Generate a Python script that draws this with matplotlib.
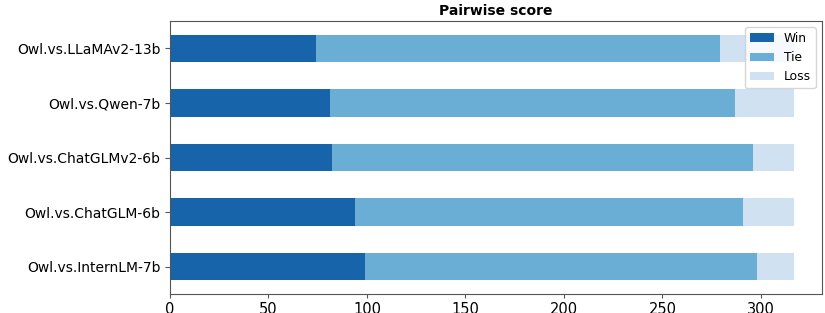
import matplotlib
matplotlib.use("Agg")
import matplotlib.pyplot as plt
import numpy as np

categories = ["Owl.vs.InternLM-7b", "Owl.vs.ChatGLM-6b", "Owl.vs.ChatGLMv2-6b",
              "Owl.vs.Qwen-7b", "Owl.vs.LLaMAv2-13b"]
win = [99, 94, 82, 81, 74]
tie = [199, 197, 214, 206, 205]
loss = [19, 26, 21, 30, 38]
series_names = ["Win", "Tie", "Loss"]
colors = ["#1764ab", "#6aaed6", "#d0e1f2"]

fig = plt.figure(figsize=(8.25, 3.13), dpi=100)
ax = fig.add_axes([170/825, (313-294)/313, (822-170)/825, (294-21)/313])
y = np.arange(len(categories))
left = np.zeros(len(categories))
for name, vals, c in zip(series_names, [win, tie, loss], colors):
    ax.barh(y, vals, height=0.5, left=left, color=c, label=name)
    left = left + np.array(vals)
ax.set_yticks(y)
ax.set_yticklabels(categories, fontsize=10)
ax.tick_params(axis='x', labelsize=10.5, length=3, pad=3, color='#555555')
ax.tick_params(axis='y', length=3.5, color='#555555')
for s in ax.spines.values():
    s.set_color('#555555')
ax.set_xlim(0, 331)
ax.set_ylim(-0.5, len(categories) - 0.5)
ax.set_title("Pairwise score", fontsize=10, fontweight='bold', pad=4)
ax.legend(loc='upper right', fontsize=8.8)
fig.savefig("out.png", dpi=100)
